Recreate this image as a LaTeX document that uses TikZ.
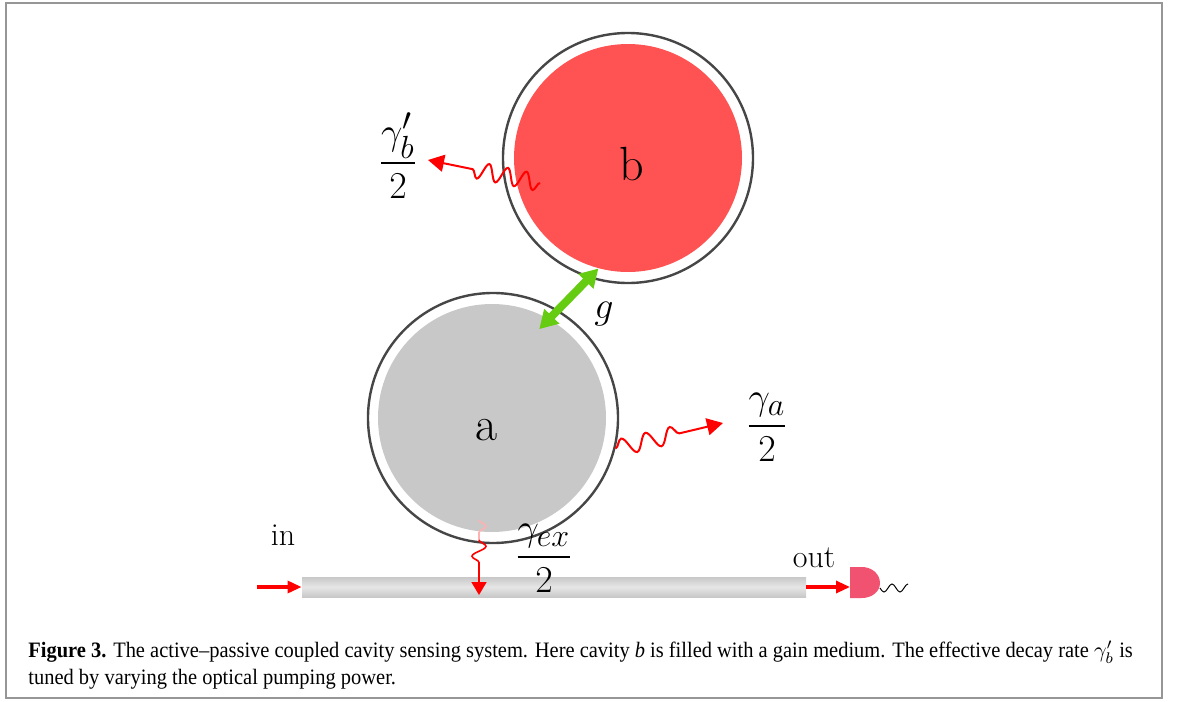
\RequirePackage{fix-cm}
\documentclass[tikz,border=0pt]{standalone}
\usepackage{amsmath}
\usepackage{fontspec}
\usetikzlibrary{arrows.meta,decorations.pathmorphing,calc}
\newfontfamily\capfont[Ligatures=TeX, FakeStretch=0.93]{Liberation Serif}
\DeclareMathSizes{19}{19}{16}{12}
\definecolor{gainred}{RGB}{255,82,82}
\definecolor{passivegray}{RGB}{200,200,200}
\definecolor{ringgray}{RGB}{70,70,70}
\definecolor{couplegreen}{RGB}{102,204,17}
\definecolor{detpink}{RGB}{240,82,112}
\definecolor{framegray}{RGB}{150,150,150}
\begin{document}
\begin{tikzpicture}[x=0.5pt, y=-0.5pt,
    ring_style/.style={circle, draw=ringgray, line width=1.2pt, minimum size=125pt, inner sep=0pt},
    cavity_style/.style={circle, minimum size=114pt, inner sep=0pt},
    cav_label/.style={font=\fontsize{24}{28}\selectfont, inner sep=0pt},
    rate_label/.style={font=\fontsize{19}{23}\selectfont, inner sep=0pt},
    port_label/.style={font=\fontsize{16}{19}\selectfont, inner sep=0pt},
    wave/.style={red, line width=1pt, decorate, decoration={snake, amplitude=4.2pt, segment length=9.5pt}},
    decay/.style={wave, -{Triangle[length=8pt, width=8.5pt]}},
    port/.style={red, line width=1.6pt, -{Triangle[length=7pt, width=6pt]}},
    coupling/.style={couplegreen, line width=4pt, {Triangle[length=9pt, width=10pt]}-{Triangle[length=9pt, width=10pt]}},
    caption_style/.style={font=\capfont\fontsize{11}{13.5}\selectfont, inner sep=0pt, anchor=base west}
]
\useasboundingbox (0,0) rectangle (1179,702);
\draw[framegray, line width=1pt] (6,3) rectangle (1162,698);

% Cavities
\node[ring_style] (ring_b) at (628,158) {};
\node[cavity_style, fill=gainred] (b) at (628,158) {};
\node[ring_style] (ring_a) at (493,418) {};
\node[cavity_style, fill=passivegray] (a) at (492,418) {};
\node[cav_label, anchor=base] (b_lab) at (632,180) {b};
\node[cav_label, anchor=base] (a_lab) at (487,440) {a};

% Coupling
\coordinate (a_in) at ($(a.center)!0.88!(a.62)$);
\draw[coupling] (b.255) -- (a_in);
\node[rate_label, anchor=base] (g_lab) at (604,318) {$g$};

% Waveguide
\node[rectangle, minimum width=252pt, minimum height=10pt, inner sep=0pt,
    top color=passivegray, bottom color=passivegray, middle color=gray!20] (wg) at (554,587) {};

% Decay channels
\node[rate_label, anchor=base] (gb_lab) at (398,172.5) {$\dfrac{\gamma_b'}{2}$};
\node[rate_label, anchor=base] (ga_lab) at (767,435.5) {$\dfrac{\gamma_a}{2}$};
\node[rate_label, anchor=base] (gex_lab) at (544,566.5) {$\dfrac{\gamma_{ex}}{2}$};
\coordinate (gb_start) at ($(b.center)+(-88,25)$);
\coordinate (gb_tip) at (428,160);
\coordinate (ga_start) at (ring_a.-14);
\coordinate (ga_tip) at (723,423);
\draw[decay, decoration={post length=19pt}] (gb_start) -- (gb_tip);
\draw[decay, decoration={segment length=12.5pt, post length=18.5pt}] (ga_start) -- (ga_tip);
\coordinate (ex_top) at (479,520);
\coordinate (ex_mid) at (479,540);
\coordinate (ex_tip) at (479,595);
\draw[wave, red!30, line width=0.8pt, decoration={amplitude=3.5pt, segment length=10pt}] (ex_top) -- (ex_mid);
\draw[decay, line width=0.8pt, decoration={amplitude=3.5pt, segment length=10pt, post length=12.5pt},
    -{Triangle[length=6.5pt, width=7.5pt]}] (ex_mid) -- (ex_tip);

% Ports
\coordinate (in_start) at (257,587);
\coordinate (det) at (850,587);
\coordinate (det_out) at (880,588);
\draw[port] (in_start) -- (wg.west);
\draw[port] (wg.east) -- (det);
\node[port_label, anchor=base] (in_lab) at (283,545) {in};
\node[port_label, anchor=base] (out_lab) at (814,567) {out};
\fill[detpink] (850,567) -- (862,567) to[out=0, in=90] (880,583) to[out=-90, in=0] (862,598) -- (850,598) -- cycle;
\draw[black, line width=0.5pt] (det_out) sin ++(4,4) cos ++(4,-4) sin ++(4,-4) cos ++(4,4) sin ++(4,4) cos ++(4,-4) sin ++(4,-4);

% Caption
\node[caption_style] (cap1) at (28,657) {\textbf{Figure 3.} The active--passive coupled cavity sensing system. Here cavity \textit{b} is filled with a gain medium. The effective decay rate $\gamma_b'$ is};
\node[caption_style] (cap2) at (28,684) {tuned by varying the optical pumping power.};
\end{tikzpicture}
\end{document}
